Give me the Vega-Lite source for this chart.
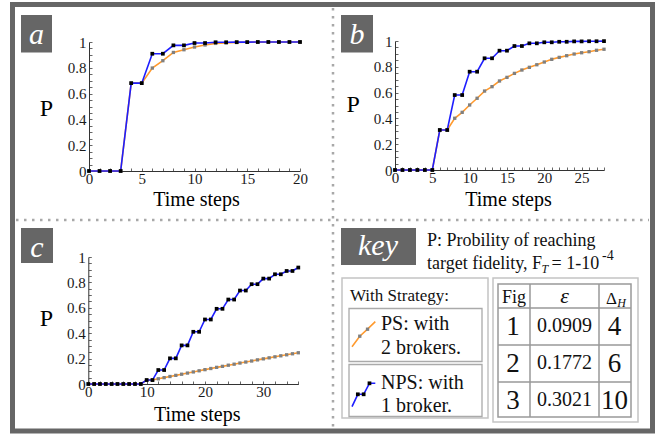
{
  "$schema": "https://vega.github.io/schema/vega-lite/v6.json",
  "width": 672,
  "height": 441,
  "autosize": {"type": "none"},
  "padding": 0,
  "background": "white",
  "config": {
    "view": {"stroke": null},
    "font": "Liberation Serif",
    "text": {"font": "Liberation Serif", "color": "#111111"}
  },
  "datasets": {
    "a": [
      {"t":0,"ps":0,"nps":0},{"t":1,"ps":0,"nps":0},{"t":2,"ps":0,"nps":0},{"t":3,"ps":0,"nps":0},
      {"t":4,"ps":0.681,"nps":0.681},{"t":5,"ps":0.681,"nps":0.681},{"t":6,"ps":0.798,"nps":0.909},
      {"t":7,"ps":0.855,"nps":0.909},{"t":8,"ps":0.919,"nps":0.974},{"t":9,"ps":0.940,"nps":0.974},
      {"t":10,"ps":0.961,"nps":0.992},{"t":11,"ps":0.977,"nps":0.992},{"t":12,"ps":0.989,"nps":0.998},
      {"t":13,"ps":0.993,"nps":0.998},{"t":14,"ps":0.996,"nps":0.999},{"t":15,"ps":0.998,"nps":0.999},
      {"t":16,"ps":0.999,"nps":1},{"t":17,"ps":1,"nps":1},{"t":18,"ps":1,"nps":1},{"t":19,"ps":1,"nps":1},{"t":20,"ps":1,"nps":1}
    ],
    "b": [
      {"t":0,"ps":0,"nps":0},{"t":1,"ps":0,"nps":0},{"t":2,"ps":0,"nps":0},{"t":3,"ps":0,"nps":0},{"t":4,"ps":0,"nps":0},{"t":5,"ps":0,"nps":0},
      {"t":6,"ps":0.31,"nps":0.31},{"t":7,"ps":0.31,"nps":0.31},{"t":8,"ps":0.401,"nps":0.581},{"t":9,"ps":0.447,"nps":0.581},
      {"t":10,"ps":0.504,"nps":0.762},{"t":11,"ps":0.556,"nps":0.762},{"t":12,"ps":0.612,"nps":0.866},{"t":13,"ps":0.646,"nps":0.866},
      {"t":14,"ps":0.690,"nps":0.925},{"t":15,"ps":0.718,"nps":0.925},{"t":16,"ps":0.749,"nps":0.961},{"t":17,"ps":0.775,"nps":0.961},
      {"t":18,"ps":0.796,"nps":0.982},{"t":19,"ps":0.816,"nps":0.982},{"t":20,"ps":0.837,"nps":0.99},{"t":21,"ps":0.858,"nps":0.99},
      {"t":22,"ps":0.873,"nps":0.994},{"t":23,"ps":0.886,"nps":0.994},{"t":24,"ps":0.899,"nps":0.997},{"t":25,"ps":0.909,"nps":0.997},
      {"t":26,"ps":0.917,"nps":0.998},{"t":27,"ps":0.928,"nps":0.998},{"t":28,"ps":0.936,"nps":0.999}
    ],
    "c": [
      {"t":0,"ps":0,"nps":0},{"t":1,"ps":0,"nps":0},{"t":2,"ps":0,"nps":0},{"t":3,"ps":0,"nps":0},{"t":4,"ps":0,"nps":0},
      {"t":5,"ps":0,"nps":0},{"t":6,"ps":0,"nps":0},{"t":7,"ps":0,"nps":0},{"t":8,"ps":0,"nps":0},{"t":9,"ps":0,"nps":0},
      {"t":10,"ps":0.031,"nps":0.031},{"t":11,"ps":0.031,"nps":0.031},{"t":12,"ps":0.041,"nps":0.110},{"t":13,"ps":0.050,"nps":0.110},
      {"t":14,"ps":0.059,"nps":0.202},{"t":15,"ps":0.068,"nps":0.202},{"t":16,"ps":0.077,"nps":0.304},{"t":17,"ps":0.086,"nps":0.304},
      {"t":18,"ps":0.095,"nps":0.411},{"t":19,"ps":0.104,"nps":0.411},{"t":20,"ps":0.113,"nps":0.508},{"t":21,"ps":0.122,"nps":0.508},
      {"t":22,"ps":0.131,"nps":0.592},{"t":23,"ps":0.139,"nps":0.592},{"t":24,"ps":0.148,"nps":0.665},{"t":25,"ps":0.156,"nps":0.665},
      {"t":26,"ps":0.165,"nps":0.736},{"t":27,"ps":0.173,"nps":0.736},{"t":28,"ps":0.181,"nps":0.786},{"t":29,"ps":0.190,"nps":0.786},
      {"t":30,"ps":0.198,"nps":0.830},{"t":31,"ps":0.206,"nps":0.830},{"t":32,"ps":0.214,"nps":0.864},{"t":33,"ps":0.222,"nps":0.864},
      {"t":34,"ps":0.230,"nps":0.890},{"t":35,"ps":0.238,"nps":0.890},{"t":36,"ps":0.246,"nps":0.917}
    ]
  },
  "layer": [
    {
      "data": {"values": [{}]},
      "layer": [
        {"mark": {"type": "rect", "fill": "transparent", "stroke": "#666666", "strokeWidth": 5},
         "encoding": {"x": {"datum": 12.5, "type": "quantitative", "scale": {"domain": [0,672], "range": [0,672], "nice": false, "zero": false}, "axis": null}, "x2": {"datum": 652.5},
                      "y": {"datum": 4.5, "type": "quantitative", "scale": {"domain": [0,441], "range": [0,441], "nice": false, "zero": false}, "axis": null}, "y2": {"datum": 431}}},
        {"mark": {"type": "rule", "color": "#a8a8a8", "strokeWidth": 2.5, "strokeDash": [2.5, 5.5]},
         "encoding": {"x": {"datum": 333, "type": "quantitative", "scale": {"domain": [0,672], "range": [0,672], "nice": false, "zero": false}, "axis": null},
                      "y": {"datum": 8, "type": "quantitative", "scale": {"domain": [0,441], "range": [0,441], "nice": false, "zero": false}, "axis": null}, "y2": {"datum": 429}}},
        {"mark": {"type": "rule", "color": "#a8a8a8", "strokeWidth": 2.5, "strokeDash": [2.5, 5.5]},
         "encoding": {"x": {"datum": 16, "type": "quantitative", "scale": {"domain": [0,672], "range": [0,672], "nice": false, "zero": false}, "axis": null}, "x2": {"datum": 649},
                      "y": {"datum": 220, "type": "quantitative", "scale": {"domain": [0,441], "range": [0,441], "nice": false, "zero": false}, "axis": null}}},
        {"mark": {"type": "rect", "fill": "#666666"},
         "encoding": {"x": {"datum": 21, "type": "quantitative", "scale": {"domain": [0,672], "range": [0,672], "nice": false, "zero": false}, "axis": null}, "x2": {"datum": 52},
                      "y": {"datum": 15, "type": "quantitative", "scale": {"domain": [0,441], "range": [0,441], "nice": false, "zero": false}, "axis": null}, "y2": {"datum": 52.5}}},
        {"mark": {"type": "rect", "fill": "#666666"},
         "encoding": {"x": {"datum": 341, "type": "quantitative", "scale": {"domain": [0,672], "range": [0,672], "nice": false, "zero": false}, "axis": null}, "x2": {"datum": 373},
                      "y": {"datum": 15, "type": "quantitative", "scale": {"domain": [0,441], "range": [0,441], "nice": false, "zero": false}, "axis": null}, "y2": {"datum": 52.5}}},
        {"mark": {"type": "rect", "fill": "#666666"},
         "encoding": {"x": {"datum": 21, "type": "quantitative", "scale": {"domain": [0,672], "range": [0,672], "nice": false, "zero": false}, "axis": null}, "x2": {"datum": 53},
                      "y": {"datum": 228, "type": "quantitative", "scale": {"domain": [0,441], "range": [0,441], "nice": false, "zero": false}, "axis": null}, "y2": {"datum": 263}}},
        {"mark": {"type": "rect", "fill": "#666666"},
         "encoding": {"x": {"datum": 341, "type": "quantitative", "scale": {"domain": [0,672], "range": [0,672], "nice": false, "zero": false}, "axis": null}, "x2": {"datum": 416},
                      "y": {"datum": 228, "type": "quantitative", "scale": {"domain": [0,441], "range": [0,441], "nice": false, "zero": false}, "axis": null}, "y2": {"datum": 265}}},
        {"mark": {"type": "text", "text": "a", "fontStyle": "italic", "fontSize": 30, "color": "white", "align": "center", "baseline": "alphabetic"},
         "encoding": {"x": {"datum": 36.5, "type": "quantitative", "scale": {"domain": [0,672], "range": [0,672], "nice": false, "zero": false}, "axis": null},
                      "y": {"datum": 44, "type": "quantitative", "scale": {"domain": [0,441], "range": [0,441], "nice": false, "zero": false}, "axis": null}}},
        {"mark": {"type": "text", "text": "b", "fontStyle": "italic", "fontSize": 30, "color": "white", "align": "center", "baseline": "alphabetic"},
         "encoding": {"x": {"datum": 357, "type": "quantitative", "scale": {"domain": [0,672], "range": [0,672], "nice": false, "zero": false}, "axis": null},
                      "y": {"datum": 44, "type": "quantitative", "scale": {"domain": [0,441], "range": [0,441], "nice": false, "zero": false}, "axis": null}}},
        {"mark": {"type": "text", "text": "c", "fontStyle": "italic", "fontSize": 30, "color": "white", "align": "center", "baseline": "alphabetic"},
         "encoding": {"x": {"datum": 37, "type": "quantitative", "scale": {"domain": [0,672], "range": [0,672], "nice": false, "zero": false}, "axis": null},
                      "y": {"datum": 257, "type": "quantitative", "scale": {"domain": [0,441], "range": [0,441], "nice": false, "zero": false}, "axis": null}}},
        {"mark": {"type": "text", "text": "key", "fontStyle": "italic", "fontSize": 30, "color": "white", "align": "center", "baseline": "alphabetic"},
         "encoding": {"x": {"datum": 378, "type": "quantitative", "scale": {"domain": [0,672], "range": [0,672], "nice": false, "zero": false}, "axis": null},
                      "y": {"datum": 255, "type": "quantitative", "scale": {"domain": [0,441], "range": [0,441], "nice": false, "zero": false}, "axis": null}}},
        {"mark": {"type": "text", "text": "P: Probility of reaching", "fontSize": 18, "align": "left", "baseline": "alphabetic"},
         "encoding": {"x": {"datum": 427, "type": "quantitative", "scale": {"domain": [0,672], "range": [0,672], "nice": false, "zero": false}, "axis": null},
                      "y": {"datum": 246, "type": "quantitative", "scale": {"domain": [0,441], "range": [0,441], "nice": false, "zero": false}, "axis": null}}},
        {"mark": {"type": "text", "text": "target fidelity, F", "fontSize": 18, "align": "left", "baseline": "alphabetic"},
         "encoding": {"x": {"datum": 427, "type": "quantitative", "scale": {"domain": [0,672], "range": [0,672], "nice": false, "zero": false}, "axis": null},
                      "y": {"datum": 269.3, "type": "quantitative", "scale": {"domain": [0,441], "range": [0,441], "nice": false, "zero": false}, "axis": null}}},
        {"mark": {"type": "text", "text": "T", "fontSize": 12, "fontStyle": "italic", "align": "left", "baseline": "alphabetic"},
         "encoding": {"x": {"datum": 541.5, "type": "quantitative", "scale": {"domain": [0,672], "range": [0,672], "nice": false, "zero": false}, "axis": null},
                      "y": {"datum": 273, "type": "quantitative", "scale": {"domain": [0,441], "range": [0,441], "nice": false, "zero": false}, "axis": null}}},
        {"mark": {"type": "text", "text": "= 1-10", "fontSize": 18, "align": "left", "baseline": "alphabetic"},
         "encoding": {"x": {"datum": 551.5, "type": "quantitative", "scale": {"domain": [0,672], "range": [0,672], "nice": false, "zero": false}, "axis": null},
                      "y": {"datum": 269.3, "type": "quantitative", "scale": {"domain": [0,441], "range": [0,441], "nice": false, "zero": false}, "axis": null}}},
        {"mark": {"type": "text", "text": "-4", "fontSize": 14, "align": "left", "baseline": "alphabetic"},
         "encoding": {"x": {"datum": 602, "type": "quantitative", "scale": {"domain": [0,672], "range": [0,672], "nice": false, "zero": false}, "axis": null},
                      "y": {"datum": 260, "type": "quantitative", "scale": {"domain": [0,441], "range": [0,441], "nice": false, "zero": false}, "axis": null}}},
        {"mark": {"type": "rect", "fill": "transparent", "stroke": "#c4c4c4", "strokeWidth": 1.5},
         "encoding": {"x": {"datum": 342, "type": "quantitative", "scale": {"domain": [0,672], "range": [0,672], "nice": false, "zero": false}, "axis": null}, "x2": {"datum": 488},
                      "y": {"datum": 278, "type": "quantitative", "scale": {"domain": [0,441], "range": [0,441], "nice": false, "zero": false}, "axis": null}, "y2": {"datum": 418}}},
        {"mark": {"type": "text", "text": "With Strategy:", "fontSize": 17, "align": "left", "baseline": "alphabetic"},
         "encoding": {"x": {"datum": 350, "type": "quantitative", "scale": {"domain": [0,672], "range": [0,672], "nice": false, "zero": false}, "axis": null},
                      "y": {"datum": 300.7, "type": "quantitative", "scale": {"domain": [0,441], "range": [0,441], "nice": false, "zero": false}, "axis": null}}},
        {"mark": {"type": "rect", "fill": "transparent", "stroke": "#aaaaaa", "strokeWidth": 1.3},
         "encoding": {"x": {"datum": 349, "type": "quantitative", "scale": {"domain": [0,672], "range": [0,672], "nice": false, "zero": false}, "axis": null}, "x2": {"datum": 482},
                      "y": {"datum": 308.5, "type": "quantitative", "scale": {"domain": [0,441], "range": [0,441], "nice": false, "zero": false}, "axis": null}, "y2": {"datum": 361.5}}},
        {"mark": {"type": "rect", "fill": "transparent", "stroke": "#aaaaaa", "strokeWidth": 1.3},
         "encoding": {"x": {"datum": 349, "type": "quantitative", "scale": {"domain": [0,672], "range": [0,672], "nice": false, "zero": false}, "axis": null}, "x2": {"datum": 482},
                      "y": {"datum": 364.5, "type": "quantitative", "scale": {"domain": [0,441], "range": [0,441], "nice": false, "zero": false}, "axis": null}, "y2": {"datum": 416.5}}},
        {"mark": {"type": "text", "text": "PS: with", "fontSize": 20, "align": "left", "baseline": "alphabetic"},
         "encoding": {"x": {"datum": 381, "type": "quantitative", "scale": {"domain": [0,672], "range": [0,672], "nice": false, "zero": false}, "axis": null},
                      "y": {"datum": 330, "type": "quantitative", "scale": {"domain": [0,441], "range": [0,441], "nice": false, "zero": false}, "axis": null}}},
        {"mark": {"type": "text", "text": "2 brokers.", "fontSize": 20, "align": "left", "baseline": "alphabetic"},
         "encoding": {"x": {"datum": 381, "type": "quantitative", "scale": {"domain": [0,672], "range": [0,672], "nice": false, "zero": false}, "axis": null},
                      "y": {"datum": 354, "type": "quantitative", "scale": {"domain": [0,441], "range": [0,441], "nice": false, "zero": false}, "axis": null}}},
        {"mark": {"type": "text", "text": "NPS: with", "fontSize": 20, "align": "left", "baseline": "alphabetic"},
         "encoding": {"x": {"datum": 381, "type": "quantitative", "scale": {"domain": [0,672], "range": [0,672], "nice": false, "zero": false}, "axis": null},
                      "y": {"datum": 389, "type": "quantitative", "scale": {"domain": [0,441], "range": [0,441], "nice": false, "zero": false}, "axis": null}}},
        {"mark": {"type": "text", "text": "1 broker.", "fontSize": 20, "align": "left", "baseline": "alphabetic"},
         "encoding": {"x": {"datum": 381, "type": "quantitative", "scale": {"domain": [0,672], "range": [0,672], "nice": false, "zero": false}, "axis": null},
                      "y": {"datum": 412, "type": "quantitative", "scale": {"domain": [0,441], "range": [0,441], "nice": false, "zero": false}, "axis": null}}},
        {"mark": {"type": "rect", "fill": "transparent", "stroke": "#c4c4c4", "strokeWidth": 1.5},
         "encoding": {"x": {"datum": 493, "type": "quantitative", "scale": {"domain": [0,672], "range": [0,672], "nice": false, "zero": false}, "axis": null}, "x2": {"datum": 638},
                      "y": {"datum": 278, "type": "quantitative", "scale": {"domain": [0,441], "range": [0,441], "nice": false, "zero": false}, "axis": null}, "y2": {"datum": 422}}},
        {"mark": {"type": "rect", "fill": "transparent", "stroke": "#999999", "strokeWidth": 1.5},
         "encoding": {"x": {"datum": 498, "type": "quantitative", "scale": {"domain": [0,672], "range": [0,672], "nice": false, "zero": false}, "axis": null}, "x2": {"datum": 631},
                      "y": {"datum": 284, "type": "quantitative", "scale": {"domain": [0,441], "range": [0,441], "nice": false, "zero": false}, "axis": null}, "y2": {"datum": 417}}},
        {"mark": {"type": "rule", "color": "#999999", "strokeWidth": 1.5},
         "encoding": {"x": {"datum": 530, "type": "quantitative", "scale": {"domain": [0,672], "range": [0,672], "nice": false, "zero": false}, "axis": null},
                      "y": {"datum": 284, "type": "quantitative", "scale": {"domain": [0,441], "range": [0,441], "nice": false, "zero": false}, "axis": null}, "y2": {"datum": 417}}},
        {"mark": {"type": "rule", "color": "#999999", "strokeWidth": 1.5},
         "encoding": {"x": {"datum": 599, "type": "quantitative", "scale": {"domain": [0,672], "range": [0,672], "nice": false, "zero": false}, "axis": null},
                      "y": {"datum": 284, "type": "quantitative", "scale": {"domain": [0,441], "range": [0,441], "nice": false, "zero": false}, "axis": null}, "y2": {"datum": 417}}},
        {"mark": {"type": "rule", "color": "#999999", "strokeWidth": 1.5},
         "encoding": {"x": {"datum": 498, "type": "quantitative", "scale": {"domain": [0,672], "range": [0,672], "nice": false, "zero": false}, "axis": null}, "x2": {"datum": 631},
                      "y": {"datum": 308, "type": "quantitative", "scale": {"domain": [0,441], "range": [0,441], "nice": false, "zero": false}, "axis": null}}},
        {"mark": {"type": "rule", "color": "#999999", "strokeWidth": 1.5},
         "encoding": {"x": {"datum": 498, "type": "quantitative", "scale": {"domain": [0,672], "range": [0,672], "nice": false, "zero": false}, "axis": null}, "x2": {"datum": 631},
                      "y": {"datum": 345, "type": "quantitative", "scale": {"domain": [0,441], "range": [0,441], "nice": false, "zero": false}, "axis": null}}},
        {"mark": {"type": "rule", "color": "#999999", "strokeWidth": 1.5},
         "encoding": {"x": {"datum": 498, "type": "quantitative", "scale": {"domain": [0,672], "range": [0,672], "nice": false, "zero": false}, "axis": null}, "x2": {"datum": 631},
                      "y": {"datum": 382, "type": "quantitative", "scale": {"domain": [0,441], "range": [0,441], "nice": false, "zero": false}, "axis": null}}},
        {"mark": {"type": "text", "text": "Fig", "fontSize": 18, "align": "center", "baseline": "alphabetic"},
         "encoding": {"x": {"datum": 514, "type": "quantitative", "scale": {"domain": [0,672], "range": [0,672], "nice": false, "zero": false}, "axis": null},
                      "y": {"datum": 302.7, "type": "quantitative", "scale": {"domain": [0,441], "range": [0,441], "nice": false, "zero": false}, "axis": null}}},
        {"mark": {"type": "text", "text": "ε", "fontSize": 22, "fontStyle": "italic", "align": "center", "baseline": "alphabetic"},
         "encoding": {"x": {"datum": 564.5, "type": "quantitative", "scale": {"domain": [0,672], "range": [0,672], "nice": false, "zero": false}, "axis": null},
                      "y": {"datum": 303, "type": "quantitative", "scale": {"domain": [0,441], "range": [0,441], "nice": false, "zero": false}, "axis": null}}},
        {"mark": {"type": "text", "text": "Δ", "fontSize": 17, "align": "center", "baseline": "alphabetic"},
         "encoding": {"x": {"datum": 611.5, "type": "quantitative", "scale": {"domain": [0,672], "range": [0,672], "nice": false, "zero": false}, "axis": null},
                      "y": {"datum": 304.3, "type": "quantitative", "scale": {"domain": [0,441], "range": [0,441], "nice": false, "zero": false}, "axis": null}}},
        {"mark": {"type": "text", "text": "H", "fontSize": 12, "fontStyle": "italic", "align": "center", "baseline": "alphabetic"},
         "encoding": {"x": {"datum": 621.5, "type": "quantitative", "scale": {"domain": [0,672], "range": [0,672], "nice": false, "zero": false}, "axis": null},
                      "y": {"datum": 307, "type": "quantitative", "scale": {"domain": [0,441], "range": [0,441], "nice": false, "zero": false}, "axis": null}}}
      ]
    },
    {
      "data": {"name": "a"},
      "transform": [{"fold": ["ps", "nps"], "as": ["s", "p"]}],
      "encoding": {
        "x": {"field": "t", "type": "quantitative", "scale": {"domain": [0, 20], "range": [89, 300], "nice": false, "zero": false},
              "axis": {"orient": "bottom", "offset": -270, "values": [0,1,2,3,4,5,6,7,8,9,10,11,12,13,14,15,16,17,18,19,20],
                       "labelExpr": "datum.value % 5 === 0 ? datum.label : ''", "tickSize": -3, "labelPadding": 3.5,
                       "labelFont": "Liberation Serif", "labelFontSize": 15, "labelColor": "#1a1a1a", "labelFlush": false, "labelOverlap": false, "labelBound": false,
                       "domainColor": "#333333", "domainWidth": 1, "tickColor": "#666666", "tickWidth": 1, "grid": false,
                       "title": "Time steps", "titleFont": "Liberation Serif", "titleFontSize": 20, "titleFontWeight": "normal", "titleColor": "#000000",
                       "titleX": 196, "titleY": 34, "titleAlign": "center", "titleBaseline": "alphabetic"}},
        "y": {"field": "p", "type": "quantitative", "scale": {"domain": [0, 1], "range": [171, 42], "nice": false, "zero": false},
              "axis": {"orient": "left", "offset": -89, "values": [0,0.05,0.1,0.15,0.2,0.25,0.3,0.35,0.4,0.45,0.5,0.55,0.6,0.65,0.7,0.75,0.8,0.85,0.9,0.95,1],
                       "labelExpr": "abs(datum.value*5-round(datum.value*5))<0.000001 ? format(datum.value,'~g') : ''", "tickSize": -3, "labelPadding": 6,
                       "labelFont": "Liberation Serif", "labelFontSize": 15, "labelColor": "#1a1a1a", "labelFlush": false, "labelOverlap": false, "labelBound": false,
                       "domainColor": "#333333", "domainWidth": 1, "tickColor": "#666666", "tickWidth": 1, "grid": false,
                       "title": "P", "titleFont": "Liberation Serif", "titleFontSize": 24, "titleFontWeight": "normal", "titleColor": "#000000",
                       "titleAngle": 0, "titleX": -43, "titleY": 115, "titleAlign": "center", "titleBaseline": "alphabetic"}}
      },
      "layer": [
        {"transform": [{"filter": "datum.s === 'ps'"}], "mark": {"type": "line", "color": "#ff9a2e", "strokeWidth": 1.6}},
        {"transform": [{"filter": "datum.s === 'ps'"}], "mark": {"type": "square", "color": "#808080", "size": 11, "opacity": 1}},
        {"transform": [{"filter": "datum.s === 'nps'"}], "mark": {"type": "line", "color": "#1e1eff", "strokeWidth": 1.6}},
        {"transform": [{"filter": "datum.s === 'nps'"}], "mark": {"type": "square", "color": "#000000", "size": 14, "opacity": 1}}
      ]
    },
    {
      "data": {"name": "b"},
      "transform": [{"fold": ["ps", "nps"], "as": ["s", "p"]}],
      "encoding": {
        "x": {"field": "t", "type": "quantitative", "scale": {"domain": [0, 28], "range": [395, 604], "nice": false, "zero": false},
              "axis": {"orient": "bottom", "offset": -271, "values": [0,1,2,3,4,5,6,7,8,9,10,11,12,13,14,15,16,17,18,19,20,21,22,23,24,25,26,27,28],
                       "labelExpr": "datum.value % 5 === 0 ? datum.label : ''", "tickSize": -3, "labelPadding": 3.5,
                       "labelFont": "Liberation Serif", "labelFontSize": 15, "labelColor": "#1a1a1a", "labelFlush": false, "labelOverlap": false, "labelBound": false,
                       "domainColor": "#333333", "domainWidth": 1, "tickColor": "#666666", "tickWidth": 1, "grid": false,
                       "title": "Time steps", "titleFont": "Liberation Serif", "titleFontSize": 20, "titleFontWeight": "normal", "titleColor": "#000000",
                       "titleX": 508, "titleY": 35, "titleAlign": "center", "titleBaseline": "alphabetic"}},
        "y": {"field": "p", "type": "quantitative", "scale": {"domain": [0, 1], "range": [170, 41], "nice": false, "zero": false},
              "axis": {"orient": "left", "offset": -395, "values": [0,0.05,0.1,0.15,0.2,0.25,0.3,0.35,0.4,0.45,0.5,0.55,0.6,0.65,0.7,0.75,0.8,0.85,0.9,0.95,1],
                       "labelExpr": "abs(datum.value*5-round(datum.value*5))<0.000001 ? format(datum.value,'~g') : ''", "tickSize": -3, "labelPadding": 6,
                       "labelFont": "Liberation Serif", "labelFontSize": 15, "labelColor": "#1a1a1a", "labelFlush": false, "labelOverlap": false, "labelBound": false,
                       "domainColor": "#333333", "domainWidth": 1, "tickColor": "#666666", "tickWidth": 1, "grid": false,
                       "title": "P", "titleFont": "Liberation Serif", "titleFontSize": 24, "titleFontWeight": "normal", "titleColor": "#000000",
                       "titleAngle": 0, "titleX": -42.3, "titleY": 111.7, "titleAlign": "center", "titleBaseline": "alphabetic"}}
      },
      "layer": [
        {"transform": [{"filter": "datum.s === 'ps'"}], "mark": {"type": "line", "color": "#ff9a2e", "strokeWidth": 1.6}},
        {"transform": [{"filter": "datum.s === 'ps'"}], "mark": {"type": "square", "color": "#808080", "size": 11, "opacity": 1}},
        {"transform": [{"filter": "datum.s === 'nps'"}], "mark": {"type": "line", "color": "#1e1eff", "strokeWidth": 1.6}},
        {"transform": [{"filter": "datum.s === 'nps'"}], "mark": {"type": "square", "color": "#000000", "size": 14, "opacity": 1}}
      ]
    },
    {
      "data": {"name": "c"},
      "transform": [{"fold": ["ps", "nps"], "as": ["s", "p"]}],
      "encoding": {
        "x": {"field": "t", "type": "quantitative", "scale": {"domain": [0, 36], "range": [88.3, 298.3], "nice": false, "zero": false},
              "axis": {"orient": "bottom", "offset": -57, "values": [0,2,4,6,8,10,12,14,16,18,20,22,24,26,28,30,32,34,36],
                       "labelExpr": "datum.value % 10 === 0 ? datum.label : ''", "tickSize": -3, "labelPadding": 3.5,
                       "labelFont": "Liberation Serif", "labelFontSize": 15, "labelColor": "#1a1a1a", "labelFlush": false, "labelOverlap": false, "labelBound": false,
                       "domainColor": "#333333", "domainWidth": 1, "tickColor": "#666666", "tickWidth": 1, "grid": false,
                       "title": "Time steps", "titleFont": "Liberation Serif", "titleFontSize": 20, "titleFontWeight": "normal", "titleColor": "#000000",
                       "titleX": 196.7, "titleY": 36.7, "titleAlign": "center", "titleBaseline": "alphabetic"}},
        "y": {"field": "p", "type": "quantitative", "scale": {"domain": [0, 1], "range": [384, 257], "nice": false, "zero": false},
              "axis": {"orient": "left", "offset": -88.3, "values": [0,0.05,0.1,0.15,0.2,0.25,0.3,0.35,0.4,0.45,0.5,0.55,0.6,0.65,0.7,0.75,0.8,0.85,0.9,0.95,1],
                       "labelExpr": "abs(datum.value*5-round(datum.value*5))<0.000001 ? format(datum.value,'~g') : ''", "tickSize": -3, "labelPadding": 6,
                       "labelFont": "Liberation Serif", "labelFontSize": 15, "labelColor": "#1a1a1a", "labelFlush": false, "labelOverlap": false, "labelBound": false,
                       "domainColor": "#333333", "domainWidth": 1, "tickColor": "#666666", "tickWidth": 1, "grid": false,
                       "title": "P", "titleFont": "Liberation Serif", "titleFontSize": 24, "titleFontWeight": "normal", "titleColor": "#000000",
                       "titleAngle": 0, "titleX": -42.5, "titleY": 325, "titleAlign": "center", "titleBaseline": "alphabetic"}}
      },
      "layer": [
        {"transform": [{"filter": "datum.s === 'ps'"}], "mark": {"type": "line", "color": "#ff9a2e", "strokeWidth": 1.6}},
        {"transform": [{"filter": "datum.s === 'ps'"}], "mark": {"type": "square", "color": "#808080", "size": 11, "opacity": 1}},
        {"transform": [{"filter": "datum.s === 'nps'"}], "mark": {"type": "line", "color": "#1e1eff", "strokeWidth": 1.6}},
        {"transform": [{"filter": "datum.s === 'nps'"}], "mark": {"type": "square", "color": "#000000", "size": 14, "opacity": 1}}
      ]
    },
    {
      "data": {"values": [{"fig": "1", "eps": "0.0909", "dh": "4"}, {"fig": "2", "eps": "0.1772", "dh": "6"}, {"fig": "3", "eps": "0.3021", "dh": "10"}]},
      "encoding": {
        "y": {"field": "fig", "type": "nominal", "scale": {"type": "point", "domain": ["1", "2", "3"], "range": [335, 408.5], "padding": 0}, "axis": null}
      },
      "layer": [
        {"mark": {"type": "text", "fontSize": 27, "align": "center", "baseline": "alphabetic"},
         "encoding": {"x": {"datum": 513, "type": "quantitative", "scale": {"domain": [0,672], "range": [0,672], "nice": false, "zero": false}, "axis": null}, "text": {"field": "fig"}}},
        {"mark": {"type": "text", "fontSize": 20, "align": "center", "baseline": "alphabetic", "dy": -3},
         "encoding": {"x": {"datum": 564.5, "type": "quantitative", "scale": {"domain": [0,672], "range": [0,672], "nice": false, "zero": false}, "axis": null}, "text": {"field": "eps"}}},
        {"mark": {"type": "text", "fontSize": 27, "align": "center", "baseline": "alphabetic"},
         "encoding": {"x": {"datum": 614.5, "type": "quantitative", "scale": {"domain": [0,672], "range": [0,672], "nice": false, "zero": false}, "axis": null}, "text": {"field": "dh"}}}
      ]
    },
    {
      "data": {"values": [{"k": 0, "v": 0}, {"k": 1, "v": 0.42}, {"k": 2, "v": 0.7}, {"k": 3, "v": 1}]},
      "encoding": {
        "x": {"field": "k", "type": "quantitative", "scale": {"domain": [0, 3], "range": [352, 375.3], "nice": false, "zero": false}, "axis": null},
        "y": {"field": "v", "type": "quantitative", "scale": {"domain": [0, 1], "range": [346.7, 321.7], "nice": false, "zero": false}, "axis": null}
      },
      "layer": [
        {"mark": {"type": "line", "color": "#ff9a2e", "strokeWidth": 1.6}},
        {"transform": [{"filter": "datum.k > 0 && datum.k < 3"}], "mark": {"type": "square", "color": "#808080", "size": 11, "opacity": 1}}
      ]
    },
    {
      "data": {"values": [{"k": 0, "v": 0}, {"k": 1, "v": 0.53}, {"k": 2, "v": 0.53}, {"k": 3, "v": 1}, {"k": 4, "v": 1}]},
      "encoding": {
        "x": {"field": "k", "type": "quantitative", "scale": {"domain": [0, 4], "range": [352, 375.3], "nice": false, "zero": false}, "axis": null},
        "y": {"field": "v", "type": "quantitative", "scale": {"domain": [0, 1], "range": [406.7, 383.3], "nice": false, "zero": false}, "axis": null}
      },
      "layer": [
        {"mark": {"type": "line", "color": "#1e1eff", "strokeWidth": 1.6}},
        {"transform": [{"filter": "datum.k >= 1 && datum.k <= 3"}], "mark": {"type": "square", "color": "#000000", "size": 14, "opacity": 1}}
      ]
    }
  ],
  "resolve": {"scale": {"x": "independent", "y": "independent"}, "axis": {"x": "independent", "y": "independent"}}
}
